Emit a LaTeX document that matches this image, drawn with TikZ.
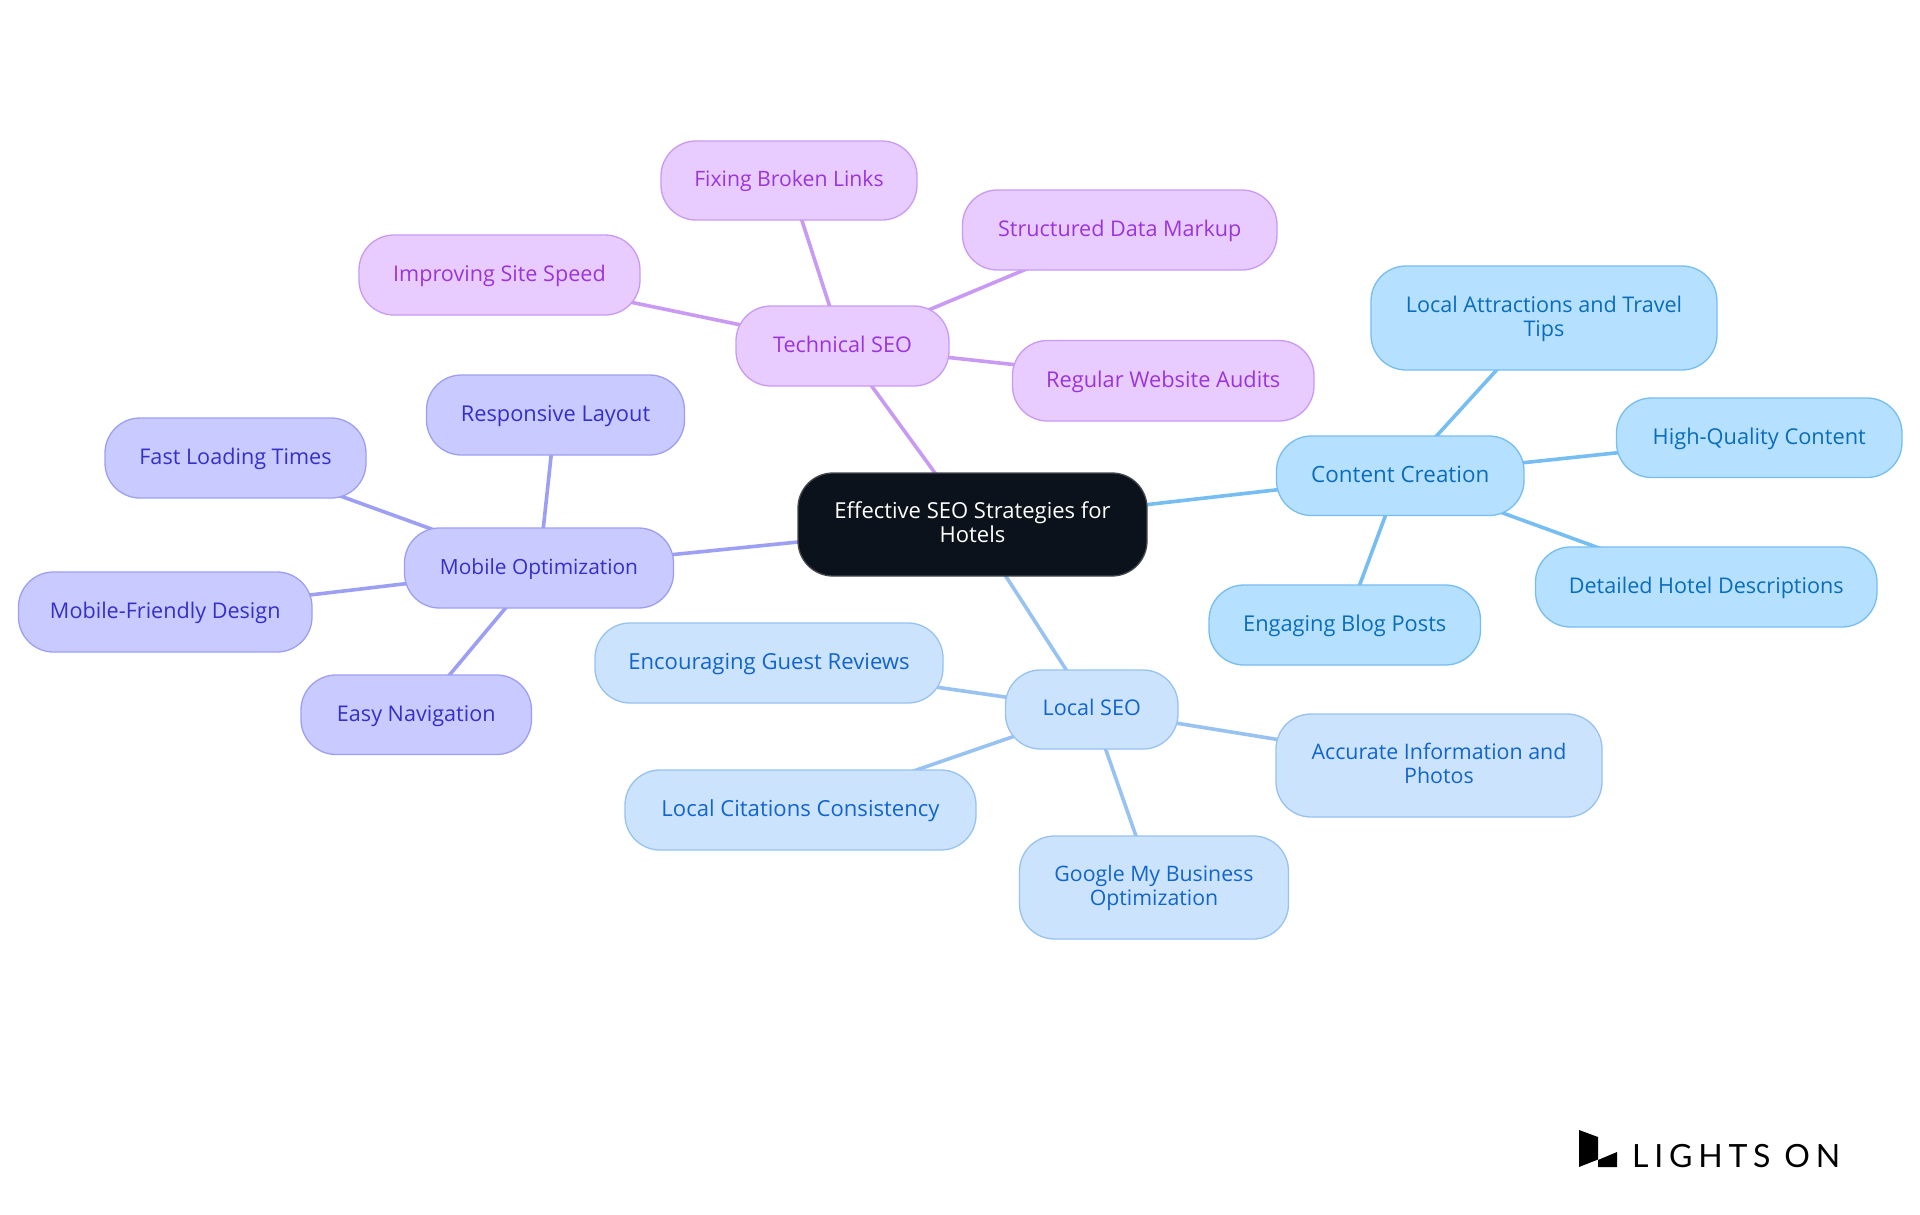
\documentclass[tikz,border=0pt]{standalone}
\usepackage{fontspec}
\setmainfont{Open Sans}
\newfontfamily\logofont[LetterSpace=18]{Lato}
\usetikzlibrary{backgrounds}
\definecolor{purF}{HTML}{E8CCFF}\definecolor{purD}{HTML}{C99AF3}\definecolor{purT}{HTML}{9B35DB}
\definecolor{indF}{HTML}{C9CAFF}\definecolor{indD}{HTML}{9D9FF5}\definecolor{indT}{HTML}{3430C8}
\definecolor{bluF}{HTML}{B5E0FF}\definecolor{bluD}{HTML}{76BEF2}\definecolor{bluT}{HTML}{0A6DBB}
\definecolor{locF}{HTML}{CCE3FD}\definecolor{locD}{HTML}{98C2F2}\definecolor{locT}{HTML}{1265CC}
\definecolor{rootF}{HTML}{0C121B}\definecolor{rootD}{HTML}{45484E}
\tikzset{
  x=1pt,y=-1pt,
  fz/.style={font=\fontsize{#1}{23.8}\selectfont},
  mapnode/.style={rectangle,rounded corners=35pt,inner sep=0pt,outer sep=0pt,line width=1.3pt,align=center,fz=21.6},
  pur/.style={mapnode,fill=purF,draw=purD,text=purT},
  ind/.style={mapnode,fill=indF,draw=indD,text=indT},
  blu/.style={mapnode,fill=bluF,draw=bluD,text=bluT},
  loc/.style={mapnode,fill=locF,draw=locD,text=locT},
  rootbox/.style={mapnode,fill=rootF,draw=rootD,text=white},
  purl/.style={draw=purD,line width=3.6pt},
  indl/.style={draw=indD,line width=3.6pt},
  blul/.style={draw=bluD,line width=3.6pt},
  locl/.style={draw=locD,line width=3.6pt},
}
\newcommand{\mapstrutA}{\rule{0pt}{18.3pt}}
\newcommand{\mapstrutB}{\rule[-5.7pt]{0pt}{5.7pt}}
\newcommand{\mapbox}[7]{\node[#2,minimum width={#5-#3},minimum height={#6-#4}] (#1) at ({(#3+#5)/2},{(#4+#6)/2}) {\mapstrutA #7\mapstrutB};}
\begin{document}
\begin{tikzpicture}
\useasboundingbox (0,0) rectangle (1920,1215);
\mapbox{root}{rootbox,fz=22}{798}{473}{1147}{576}{Effective SEO Strategies for\\Hotels}
\mapbox{tech}{pur}{736}{306}{949}{386}{Technical SEO}
\mapbox{speed}{pur}{359}{235}{640}{315}{Improving Site Speed}
\mapbox{links}{pur,fz=21.2}{661}{141}{917}{220}{Fixing Broken Links}
\mapbox{markup}{pur}{962.5}{190}{1277}{270}{Structured Data Markup}
\mapbox{audits}{pur,fz=21.8}{1012.5}{340.5}{1314}{421}{Regular Website Audits}
\mapbox{mobile}{ind,fz=20.9}{404.5}{528}{673.5}{608}{Mobile Optimization}
\mapbox{layout}{ind,fz=21.8}{426.5}{375}{684.5}{455}{Responsive Layout}
\mapbox{fast}{ind}{105}{418}{366}{498}{Fast Loading Times}
\mapbox{friendly}{ind}{18.5}{572}{312}{652}{Mobile-Friendly Design}
\mapbox{nav}{ind}{301}{675}{531.5}{754.5}{Easy Navigation}
\mapbox{content}{blu,fz=22.4}{1276.5}{436}{1524}{515.5}{Content Creation}
\mapbox{attract}{blu}{1371}{266}{1717}{370}{Local Attractions and Travel\\Tips}
\mapbox{quality}{blu,fz=21.8}{1616.5}{398}{1902}{477.5}{High-Quality Content}
\mapbox{detail}{blu}{1535.5}{547}{1877}{627}{Detailed Hotel Descriptions}
\mapbox{blog}{blu,fz=21.8}{1209}{585}{1480.5}{665}{Engaging Blog Posts}
\mapbox{local}{loc}{1005.5}{670}{1178}{749}{Local SEO}
\mapbox{reviews}{loc,fz=22.1}{595}{623}{943}{703}{Encouraging Guest Reviews}
\mapbox{photos}{loc,fz=21.4}{1276}{714}{1602}{817}{Accurate Information and\\Photos}
\mapbox{cite}{loc,fz=22.1}{625}{770}{976}{850}{Local Citations Consistency}
\mapbox{gmb}{loc,fz=21.3}{1019.5}{836}{1288.5}{939}{Google My Business\\Optimization}
\begin{pgfonlayer}{background}
\fill[white] (0,0) rectangle (1920,1215);
\draw[purl] (root.center)--(tech.center) (tech.center)--(speed.center) (tech.center)--(links.center) (tech.center)--(markup.center) (tech.center)--(audits.center);
\draw[indl] (root.center)--(mobile.center) (mobile.center)--(layout.center) (mobile.center)--(fast.center) (mobile.center)--(friendly.center) (mobile.center)--(nav.center);
\draw[blul] (root.center)--(content.center) (content.center)--(attract.center) (content.center)--(quality.center) (content.center)--(detail.center) (content.center)--(blog.center);
\draw[locl] (root.center)--(local.center) (local.center)--(reviews.center) (local.center)--(photos.center) (local.center)--(cite.center) (local.center)--(gmb.center);
\end{pgfonlayer}
\fill[black] (1579,1130)--(1598,1137)--(1598,1159.5)--(1579,1167)--cycle;
\fill[black] (1598,1160)--(1617,1152)--(1617,1167)--(1598,1167)--cycle;
\node[anchor=base west,inner sep=0pt,font=\logofont\fontsize{32}{32}\selectfont] (logo) at (1632,1167) {LIGHTS ON};
\end{tikzpicture}
\end{document}
